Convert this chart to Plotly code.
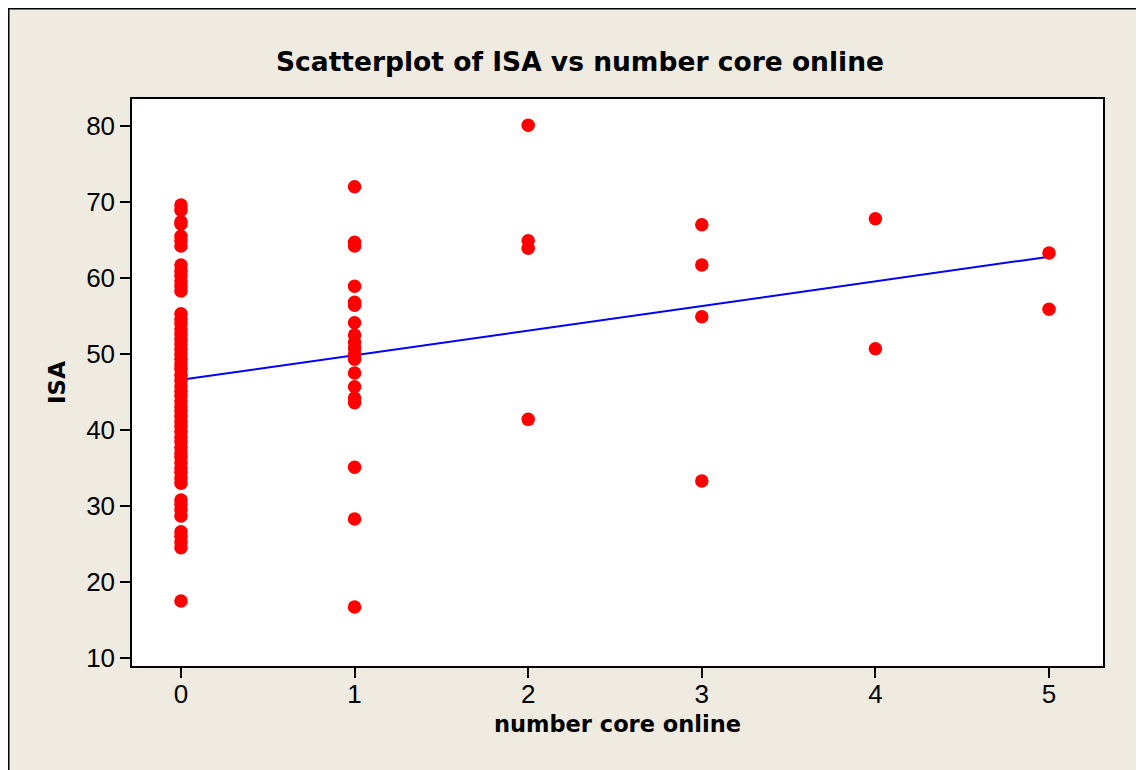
import plotly.graph_objects as go

# number of core online (x) and ISA (y)
isa_core0 = [69.6, 68.9, 67.4, 67.1, 65.5, 64.9, 64.2,
             61.7, 60.9, 60.3, 59.6, 58.9, 58.3,
             55.3, 54.6, 54.0, 53.3, 52.6, 51.9, 51.3, 50.6, 50.0, 49.3, 48.6, 48.0,
             47.2, 46.5, 45.8, 45.1, 44.5, 43.8, 43.1, 42.5, 41.8, 41.1, 40.5, 39.8,
             39.1, 38.5, 37.7, 37.0, 36.4, 35.7, 35.0, 34.4, 33.7, 33.0,
             30.8, 30.2, 29.5, 28.7,
             26.6, 26.0, 25.2, 24.5,
             17.5]
isa_core1 = [72.0, 64.7, 64.2, 58.9, 56.8, 56.4, 54.1, 52.5, 51.5, 50.8, 50.0,
             49.3, 47.5, 45.7, 44.2, 43.6, 35.1, 28.3, 16.7]
isa_core2 = [80.1, 64.9, 63.9, 41.4]
isa_core3 = [67.0, 61.7, 54.9, 33.3]
isa_core4 = [67.8, 50.7]
isa_core5 = [63.3, 55.9]

# fitted regression line, end values
fit_x = [0, 5]
fit_y = [46.6, 62.8]

x_ticks = [0, 1, 2, 3, 4, 5]
y_ticks = [10, 20, 30, 40, 50, 60, 70, 80]

groups = [isa_core0, isa_core1, isa_core2, isa_core3, isa_core4, isa_core5]
x_vals = []
y_vals = []
for k, g in enumerate(groups):
    x_vals += [k] * len(g)
    y_vals += g

fig = go.Figure()
fig.add_trace(go.Scatter(x=fit_x, y=fit_y, mode="lines",
                         line=dict(color="#0000FF", width=2), showlegend=False,
                         hoverinfo="skip"))
fig.add_trace(go.Scatter(x=x_vals, y=y_vals, mode="markers",
                         marker=dict(color="#FF0000", size=13.5, line=dict(width=0)),
                         showlegend=False))

# page offset of the figure inside the browser (body margin)
OFF = 8
W, H = 1144, 770
L, R, T, B = 132 - OFF, 1103 - OFF, 99 - OFF, 666 - OFF
pw, ph = R - L, B - T


def px(xp):
    return (xp - L) / pw


def py(yp):
    return (B - yp) / ph


fig.add_shape(type="rect", xref="paper", yref="paper",
              x0=px(0.75), x1=px(1300), y0=py(0.75), y1=py(900),
              line=dict(color="black", width=1.5), fillcolor="rgba(0,0,0,0)", layer="below")

font_family = "Liberation Sans, Arial, sans-serif"
bold_family = "DejaVu Sans, Verdana, sans-serif"

fig.update_layout(
    width=W, height=H,
    margin=dict(l=L, r=W - R, t=T, b=H - B),
    paper_bgcolor="#EFEBE1",
    plot_bgcolor="white",
    title=dict(text="<b>Scatterplot of ISA vs number core online</b>",
               x=(580 - OFF) / W, xanchor="center", xref="container",
               y=1 - (62 - OFF) / H, yanchor="middle", yref="container",
               font=dict(family=bold_family, size=26.5, color="black")),
    font=dict(family=font_family, color="black"),
)
fig.update_xaxes(
    range=[-0.282, 5.311], tickvals=x_ticks, ticktext=[str(t) for t in x_ticks],
    showgrid=False, zeroline=False, showline=True, linecolor="black", linewidth=1.5,
    mirror=True, ticks="outside", ticklen=10, tickwidth=2, tickcolor="black",
    tickfont=dict(size=26, family=font_family), ticklabelstandoff=-6,
    title=dict(text="<b>number core online</b>", standoff=8,
               font=dict(size=22.5, family=bold_family)),
)
fig.update_yaxes(
    range=[8.95, 83.55], tickvals=y_ticks, ticktext=[str(t) for t in y_ticks],
    showgrid=False, zeroline=False, showline=True, linecolor="black", linewidth=1.5,
    mirror=True, ticks="outside", ticklen=10, tickwidth=2, tickcolor="black",
    tickfont=dict(size=26, family=font_family),
    title=dict(text="<b>ISA</b>", standoff=14,
               font=dict(size=23, family=bold_family)),
)

fig.write_html("out.html")
